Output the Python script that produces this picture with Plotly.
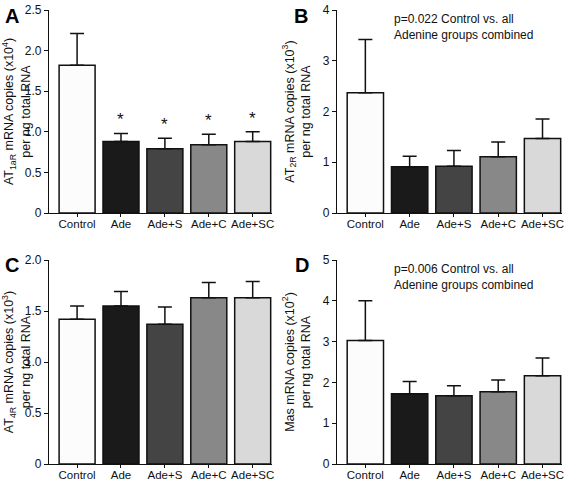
import plotly.graph_objects as go

groups = ["Control", "Ade", "Ade+S", "Ade+C", "Ade+SC"]
colors = ["#fcfcfc", "#1a1a1a", "#444444", "#888888", "#d9d9d9"]

at1r_mean = [1.82, 0.88, 0.79, 0.84, 0.88]
at1r_err = [0.39, 0.10, 0.13, 0.13, 0.12]
at2r_mean = [2.37, 0.91, 0.92, 1.11, 1.47]
at2r_err = [1.05, 0.21, 0.31, 0.29, 0.38]
at4r_mean = [1.42, 1.55, 1.37, 1.63, 1.63]
at4r_err = [0.13, 0.14, 0.17, 0.15, 0.16]
mas_mean = [3.03, 1.72, 1.67, 1.77, 2.16]
mas_err = [0.97, 0.30, 0.25, 0.29, 0.44]

W, H = 567, 480


def xd(a, b):
    return [a / W, b / W]


def yd(top, bottom):
    return [1 - bottom / H, 1 - top / H]


panels = [
    dict(mean=at1r_mean, err=at1r_err, ymax=2.5, tickvals=[0, 0.5, 1.0, 1.5, 2.0, 2.5],
         ticktext=["0", "0.5", "1.0", "1.5", "2.0", "2.5"],
         title="AT<sub>1aR</sub> mRNA copies (x10<sup>4</sup>)<br>per ng total RNA",
         xd=xd(49, 272), yd=yd(10, 213), letter="A", lx=12, ly=3, stars=True, note=None),
    dict(mean=at2r_mean, err=at2r_err, ymax=4, tickvals=[0, 1, 2, 3, 4],
         ticktext=["0", "1", "2", "3", "4"],
         title="AT<sub>2R</sub> mRNA copies (x10<sup>3</sup>)<br>per ng total RNA",
         xd=xd(337, 562), yd=yd(10, 213), letter="B", lx=301, ly=3, stars=False,
         note="p=0.022 Control vs. all<br>Adenine groups combined"),
    dict(mean=at4r_mean, err=at4r_err, ymax=2.0, tickvals=[0, 0.5, 1.0, 1.5, 2.0],
         ticktext=["0", "0.5", "1.0", "1.5", "2.0"],
         title="AT<sub>4R</sub> mRNA copies (x10<sup>3</sup>)<br>per ng total RNA",
         xd=xd(49, 272), yd=yd(260, 464), letter="C", lx=12, ly=252, stars=False, note=None),
    dict(mean=mas_mean, err=mas_err, ymax=5, tickvals=[0, 1, 2, 3, 4, 5],
         ticktext=["0", "1", "2", "3", "4", "5"],
         title="Mas mRNA copies (x10<sup>2</sup>)<br>per ng total RNA",
         xd=xd(337, 562), yd=yd(260, 464), letter="D", lx=302, ly=252, stars=False,
         note="p=0.006 Control vs. all<br>Adenine groups combined"),
]

fig = go.Figure()
font = "Liberation Sans, Arial, sans-serif"
annotations = []
xpos = list(range(len(groups)))

for i, p in enumerate(panels):
    n = "" if i == 0 else str(i + 1)
    fig.add_trace(go.Bar(
        x=xpos, y=p["mean"], width=0.82,
        marker=dict(color=colors, line=dict(color="#111111", width=1.5)),
        error_y=dict(type="data", array=p["err"], arrayminus=[0]*5, symmetric=False,
                     color="#111111", thickness=1.5, width=7),
        xaxis="x" + n, yaxis="y" + n, showlegend=False, hoverinfo="skip",
    ))
    fig.layout["xaxis" + n] = dict(
        domain=p["xd"], anchor="y" + n, range=[-0.64, 4.44], automargin=False,
        tickvals=xpos, ticktext=groups, tickangle=0, showline=True, linecolor="#111111",
        linewidth=1.2, ticks="outside", ticklen=3, tickcolor="#111111", tickwidth=1,
        showgrid=False, zeroline=False, ticklabelstandoff=-3,
        tickfont=dict(family=font, size=11.5, color="#111111"),
    )
    fig.layout["yaxis" + n] = dict(
        domain=p["yd"], anchor="x" + n, range=[0, p["ymax"]], automargin=False,
        tickvals=p["tickvals"], ticktext=p["ticktext"], showline=True, linecolor="#111111",
        linewidth=1.2, ticks="outside", ticklen=4, tickcolor="#111111", showgrid=False,
        zeroline=False, tickfont=dict(family=font, size=12, color="#111111"),
        title=dict(text=p["title"], font=dict(family=font, size=12.5, color="#111111"), standoff=9),
    )
    annotations.append(dict(
        text="<b>" + p["letter"] + "</b>", xref="paper", yref="paper",
        x=p["lx"] / W, y=1 - p["ly"] / H,
        xanchor="center", yanchor="top", showarrow=False,
        font=dict(family=font, size=20, color="#000000"),
    ))
    if p["note"]:
        annotations.append(dict(
            text=p["note"], xref="x" + n + " domain", yref="y" + n + " domain",
            x=55/225, y=1.0, xanchor="left", yanchor="top", align="left", showarrow=False,
            font=dict(family=font, size=12, color="#111111"),
        ))
    if p["stars"]:
        for j in range(1, len(groups)):
            annotations.append(dict(
                text="*", x=xpos[j], y=p["mean"][j] + p["err"][j], xref="x" + n, yref="y" + n,
                yanchor="bottom", yshift=2, showarrow=False,
                font=dict(family=font, size=17, color="#111111"),
            ))

fig.update_layout(
    width=W, height=H, margin=dict(l=0, r=0, t=0, b=0),
    plot_bgcolor="white", paper_bgcolor="white",
    annotations=annotations, bargap=0.18,
)
fig.write_html("out.html", config={"displayModeBar": False},
               post_script="document.body.style.margin='0';")
